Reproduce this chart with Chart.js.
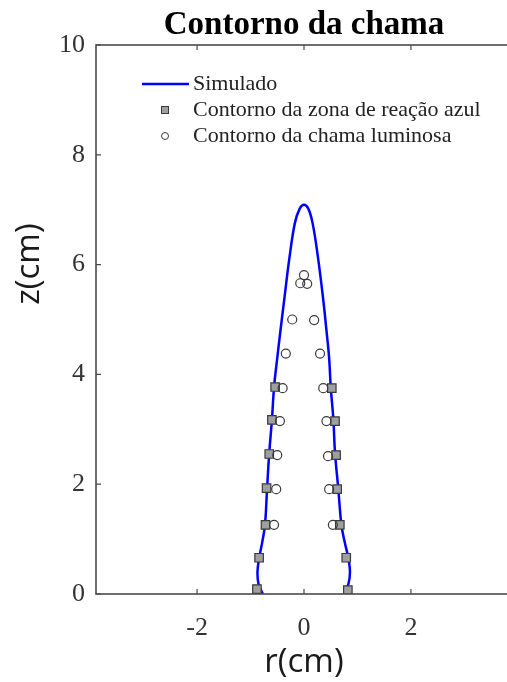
<!DOCTYPE html>
<html>
<head>
<meta charset="utf-8">
<script src="https://cdn.jsdelivr.net/npm/chart.js@4.4.1/dist/chart.umd.min.js"></script>
<style>
  html, body { margin: 0; padding: 0; background: #fff; overflow: hidden; }
  #wrap { width: 520px; height: 682px; }
</style>
</head>
<body>
<div id="wrap"><canvas id="c" width="520" height="682"></canvas></div>
<script>
// Simulated flame contour: radius r (cm) against height z (cm), traced left side up, right side down
const simR = [-0.77, -0.85, -0.87, -0.84, -0.78, -0.73, -0.69, -0.65, -0.60, -0.56, -0.50, -0.44, -0.37, -0.27, -0.17, -0.08, 0.0,
              0.08, 0.16, 0.26, 0.36, 0.42, 0.47, 0.50, 0.55, 0.58, 0.64, 0.70, 0.76, 0.83, 0.86, 0.83, 0.75];
const simZ = [0.0, 0.18, 0.40, 0.65, 0.95, 1.26, 1.93, 2.57, 3.17, 3.77, 4.30, 4.80, 5.36, 6.14, 6.76, 7.02, 7.09,
              7.02, 6.76, 6.14, 5.36, 4.80, 4.30, 3.77, 3.17, 2.57, 1.93, 1.26, 0.95, 0.65, 0.40, 0.18, 0.0];

// Measured contour of the blue reaction zone
const blueR = [-0.54, -0.60, -0.65, -0.70, -0.72, -0.84, -0.88, 0.52, 0.58, 0.60, 0.62, 0.67, 0.79, 0.82];
const blueZ = [3.77, 3.17, 2.55, 1.93, 1.26, 0.66, 0.09, 3.75, 3.15, 2.53, 1.91, 1.26, 0.66, 0.07];

// Measured contour of the luminous flame
const lumR = [-0.40, -0.45, -0.50, -0.52, -0.56, 0.36, 0.42, 0.45, 0.47, 0.54, -0.34, 0.30, -0.22, 0.19, 0.00, -0.07, 0.06];
const lumZ = [3.75, 3.15, 2.53, 1.91, 1.26, 3.75, 3.15, 2.51, 1.91, 1.26, 4.38, 4.38, 5.00, 4.99, 5.81, 5.66, 5.65];

const seriesNames = ['Simulado', 'Contorno da zona de reação azul', 'Contorno da chama luminosa'];
const xTicks = [-2, 0, 2];
const yTicks = [0, 2, 4, 6, 8, 10];
const xRange = [-3.89, 3.89];
const yRange = [0, 10];

const pts = (xs, ys) => xs.map((v, i) => ({ x: v, y: ys[i] }));

const AXIS_COLOR = '#4a4a4a';
const SERIF = '"Liberation Serif", "Times New Roman", serif';

// Frame, inward tick marks, title, axis titles and legend
const decorations = {
  id: 'decorations',
  afterDatasetsDraw(chart) {
    const { ctx, chartArea: a, scales } = chart;
    ctx.save();
    ctx.strokeStyle = AXIS_COLOR;
    ctx.lineWidth = 1.6;
    ctx.strokeRect(a.left, a.top, a.right - a.left, a.bottom - a.top);

    const tl = 5;
    ctx.lineWidth = 1.2;
    ctx.beginPath();
    scales.x.ticks.forEach(t => {
      const px = scales.x.getPixelForValue(t.value);
      ctx.moveTo(px, a.bottom); ctx.lineTo(px, a.bottom - tl);
      ctx.moveTo(px, a.top); ctx.lineTo(px, a.top + tl);
    });
    scales.y.ticks.forEach(t => {
      const py = scales.y.getPixelForValue(t.value);
      ctx.moveTo(a.left, py); ctx.lineTo(a.left + tl, py);
      ctx.moveTo(a.right, py); ctx.lineTo(a.right - tl, py);
    });
    ctx.stroke();

    const cx = (a.left + a.right) / 2;
    ctx.fillStyle = '#000';
    ctx.font = 'bold 33px ' + SERIF;
    ctx.textAlign = 'center';
    ctx.textBaseline = 'alphabetic';
    ctx.fillText('Contorno da chama', cx, 34);

    ctx.fillStyle = '#1a1a1a';
    ctx.font = '33px "Open Sans", sans-serif';
    ctx.textBaseline = 'middle';
    ctx.fillText('r(cm)', cx, 663);
    ctx.save();
    ctx.translate(30, 264);
    ctx.rotate(-Math.PI / 2);
    ctx.fillText('z(cm)', 0, 0);
    ctx.restore();

    // legend
    const lx = a.left + 46, mx = a.left + 69, tx = a.left + 97;
    const rows = [a.top + 39, a.top + 65, a.top + 91];
    const ds = chart.data.datasets;
    ctx.font = '22px ' + SERIF;
    ctx.textAlign = 'left';
    ds.forEach((d, i) => {
      const y = rows[i];
      if (i === 0) {
        ctx.strokeStyle = d.borderColor;
        ctx.lineWidth = d.borderWidth;
        ctx.beginPath(); ctx.moveTo(lx, y); ctx.lineTo(lx + 47, y); ctx.stroke();
      } else if (d.pointStyle === 'rect') {
        ctx.fillStyle = d.pointBackgroundColor;
        ctx.strokeStyle = d.pointBorderColor;
        ctx.lineWidth = 1;
        ctx.fillRect(mx - 3.5, y - 3.5, 7, 7);
        ctx.strokeRect(mx - 3.5, y - 3.5, 7, 7);
      } else {
        ctx.strokeStyle = d.pointBorderColor;
        ctx.lineWidth = 1;
        ctx.beginPath(); ctx.arc(mx, y, 3.5, 0, Math.PI * 2); ctx.stroke();
      }
      ctx.fillStyle = '#222';
      ctx.fillText(d.label, tx, y);
    });
    ctx.restore();
  }
};

new Chart(document.getElementById('c'), {
  type: 'scatter',
  data: {
    datasets: [
      {
        label: seriesNames[0],
        type: 'line',
        data: pts(simR, simZ),
        borderColor: '#0000ff',
        borderWidth: 2.5,
        pointRadius: 0,
        tension: 0.4,
        fill: false,
        order: 3
      },
      {
        label: seriesNames[1],
        data: pts(blueR, blueZ),
        pointStyle: 'rect',
        pointRadius: 6,
        pointBackgroundColor: '#9f9f9f',
        pointBorderColor: '#3a3a3a',
        pointBorderWidth: 1.2,
        order: 2
      },
      {
        label: seriesNames[2],
        data: pts(lumR, lumZ),
        pointStyle: 'circle',
        pointRadius: 4.5,
        pointBackgroundColor: 'rgba(0,0,0,0)',
        pointBorderColor: '#3a3a3a',
        pointBorderWidth: 1.2,
        order: 1
      }
    ]
  },
  options: {
    responsive: false,
    animation: false,
    layout: { padding: { left: 0, top: 45, right: 8, bottom: 0 } },
    plugins: { legend: { display: false }, tooltip: { enabled: false }, title: { display: false } },
    scales: {
      x: {
        type: 'linear',
        min: xRange[0], max: xRange[1],
        afterBuildTicks: s => { s.ticks = xTicks.map(v => ({ value: v })); },
        afterFit: s => { s.height = 88; },
        grid: { display: false, drawTicks: false },
        border: { display: false },
        ticks: { padding: 19, color: '#333', font: { family: SERIF, size: 26 } }
      },
      y: {
        type: 'linear',
        min: yRange[0], max: yRange[1],
        afterBuildTicks: s => { s.ticks = yTicks.map(v => ({ value: v })); },
        afterFit: s => { s.width = 96; },
        grid: { display: false, drawTicks: false },
        border: { display: false },
        ticks: { padding: 11, color: '#333', font: { family: SERIF, size: 26 } }
      }
    }
  },
  plugins: [decorations]
});
</script>
</body>
</html>
